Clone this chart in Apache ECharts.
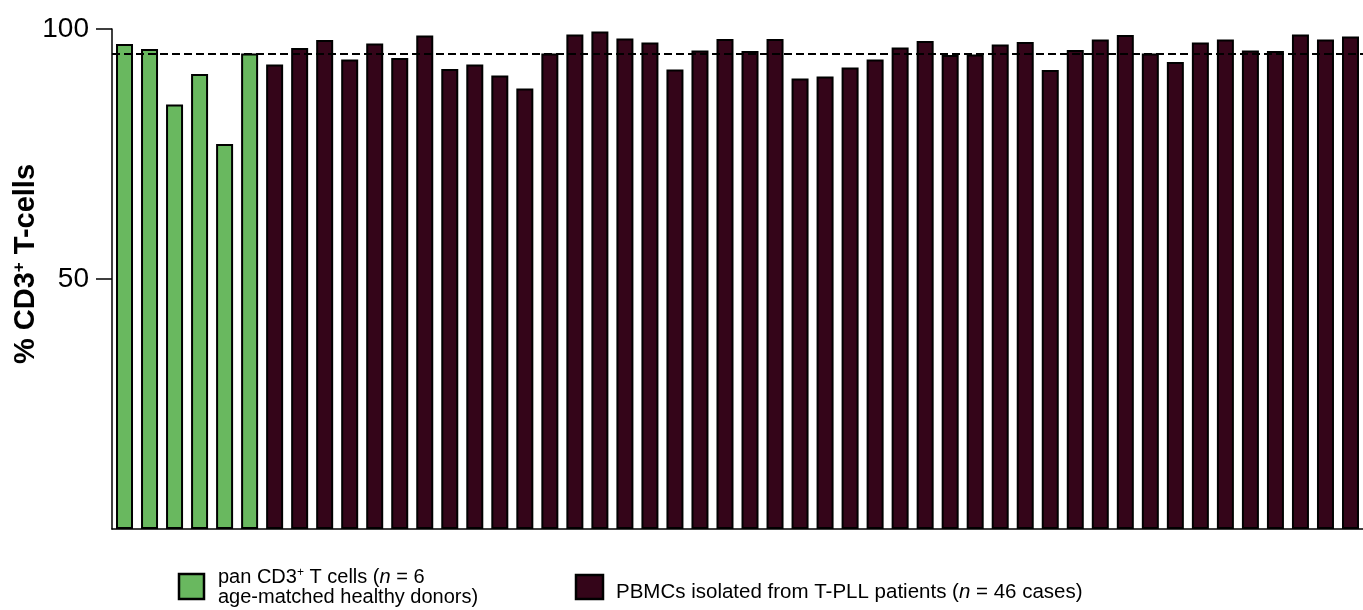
<!DOCTYPE html>
<html>
<head>
<meta charset="utf-8">
<title>% CD3+ T-cells</title>
<script src="https://cdn.jsdelivr.net/npm/echarts@6/dist/echarts.min.js"></script>
<style>
  html, body { margin: 0; padding: 0; background: #ffffff; }
  #chart { width: 1363px; height: 610px; }
</style>
</head>
<body>
<div id="chart"></div>
<script>
// Healthy donor pan CD3+ T cells
const donorLabels = ['D1', 'D2', 'D3', 'D4', 'D5', 'D6'];
const donorValues = [97.0, 96.0, 84.9, 91.0, 77.0, 95.1];

// T-PLL patient PBMCs
const patientLabels = [
  'P1', 'P2', 'P3', 'P4', 'P5', 'P6', 'P7', 'P8', 'P9', 'P10', 'P11',
  'P12', 'P13', 'P14', 'P15', 'P16', 'P17', 'P18', 'P19', 'P20', 'P21', 'P22',
  'P23', 'P24', 'P25', 'P26', 'P27', 'P28', 'P29', 'P30', 'P31', 'P32', 'P33',
  'P34', 'P35', 'P36', 'P37', 'P38', 'P39', 'P40', 'P41', 'P42', 'P43', 'P44'
];
const patientValues = [
  92.9, 96.2, 97.8, 93.9, 97.1, 94.2, 98.7, 92.0, 92.9, 90.7, 88.1,
  95.1, 98.9, 99.5, 98.1, 97.3, 91.9, 95.7, 98.0, 95.6, 98.0, 90.1,
  90.5, 92.3, 93.9, 96.3, 97.6, 94.8, 94.9, 96.9, 97.4, 91.8, 95.8,
  97.9, 98.8, 95.1, 93.4, 97.3, 97.9, 95.7, 95.6, 98.9, 97.9, 98.5
];

// Axis ticks and reference line
const yTicks = [50, 100];
const referenceLevel = 95;

const GREEN = '#69b85f';
const MAROON = '#340519';
const FONT = '"Liberation Sans", Arial, Helvetica, sans-serif';

const categories = donorLabels.concat(patientLabels);
const donorSeries = donorValues.concat(patientLabels.map(() => '-'));
const patientSeries = donorLabels.map(() => '-').concat(patientValues);

const chart = echarts.init(document.getElementById('chart'), null, { renderer: 'canvas' });

const barStyle = (color) => ({ color: color, borderColor: '#000000', borderWidth: 2 });

chart.setOption({
  animation: false,
  backgroundColor: '#ffffff',
  grid: { left: 112, right: 0, top: 29, bottom: 81, containLabel: false },
  xAxis: {
    type: 'category',
    data: categories,
    axisLine: { show: true, lineStyle: { color: '#000000', width: 1.5 } },
    axisTick: { show: false },
    axisLabel: { show: false },
    splitLine: { show: false }
  },
  yAxis: {
    type: 'value',
    min: 0,
    max: 100,
    interval: 50,
    axisLine: { show: true, lineStyle: { color: '#000000', width: 1.5 } },
    axisTick: { show: true, length: 16, customValues: yTicks, lineStyle: { color: '#000000', width: 1.5 } },
    axisLabel: { show: true, customValues: yTicks, margin: 23, color: '#000000', fontSize: 28, fontFamily: FONT },
    splitLine: { show: false }
  },
  series: [
    {
      name: 'donors',
      type: 'bar',
      data: donorSeries,
      barWidth: 17,
      barGap: '-100%',
      itemStyle: barStyle(GREEN),
      markLine: {
        silent: true,
        symbol: 'none',
        label: { show: false },
        lineStyle: { color: '#000000', type: [8, 4], width: 2 },
        data: [{ yAxis: referenceLevel }]
      },
      z: 2
    },
    {
      name: 'patients',
      type: 'bar',
      data: patientSeries,
      barWidth: 17,
      barGap: '-100%',
      itemStyle: barStyle(MAROON),
      z: 2
    }
  ],
  graphic: [
    {
      type: 'text',
      x: 26,
      y: 264,
      rotation: Math.PI / 2,
      style: {
        text: '{b|% CD3}{s|+}{b| T-cells}',
        align: 'center',
        verticalAlign: 'middle',
        fill: '#000000',
        rich: {
          b: { fontFamily: FONT, fontSize: 29, fontWeight: 'bold', lineHeight: 30, fill: '#000000' },
          s: { fontFamily: FONT, fontSize: 17, fontWeight: 'bold', lineHeight: 30, verticalAlign: 'top', fill: '#000000' }
        }
      }
    },
    {
      type: 'rect',
      shape: { x: 179, y: 574, width: 25, height: 25 },
      style: { fill: GREEN, stroke: '#000000', lineWidth: 2.5 }
    },
    {
      type: 'text',
      x: 218,
      y: 587,
      style: {
        text: '{n|pan CD3}{s|+}{n| T cells (}{i|n}{n| = 6}\n{n|age-matched healthy donors)}',
        align: 'left',
        verticalAlign: 'middle',
        fill: '#000000',
        rich: {
          n: { fontFamily: FONT, fontSize: 20, lineHeight: 20, fill: '#000000' },
          i: { fontFamily: FONT, fontSize: 20, lineHeight: 20, fontStyle: 'italic', fill: '#000000' },
          s: { fontFamily: FONT, fontSize: 12, lineHeight: 20, verticalAlign: 'top', fill: '#000000' }
        }
      }
    },
    {
      type: 'rect',
      shape: { x: 576, y: 575, width: 27, height: 24 },
      style: { fill: MAROON, stroke: '#000000', lineWidth: 2.5 }
    },
    {
      type: 'text',
      x: 616,
      y: 592,
      style: {
        text: '{n|PBMCs isolated from T-PLL patients (}{i|n}{n| = 46 cases)}',
        align: 'left',
        verticalAlign: 'middle',
        fill: '#000000',
        rich: {
          n: { fontFamily: FONT, fontSize: 20.5, lineHeight: 22, fill: '#000000' },
          i: { fontFamily: FONT, fontSize: 20.5, lineHeight: 22, fontStyle: 'italic', fill: '#000000' }
        }
      }
    }
  ]
});
</script>
</body>
</html>
